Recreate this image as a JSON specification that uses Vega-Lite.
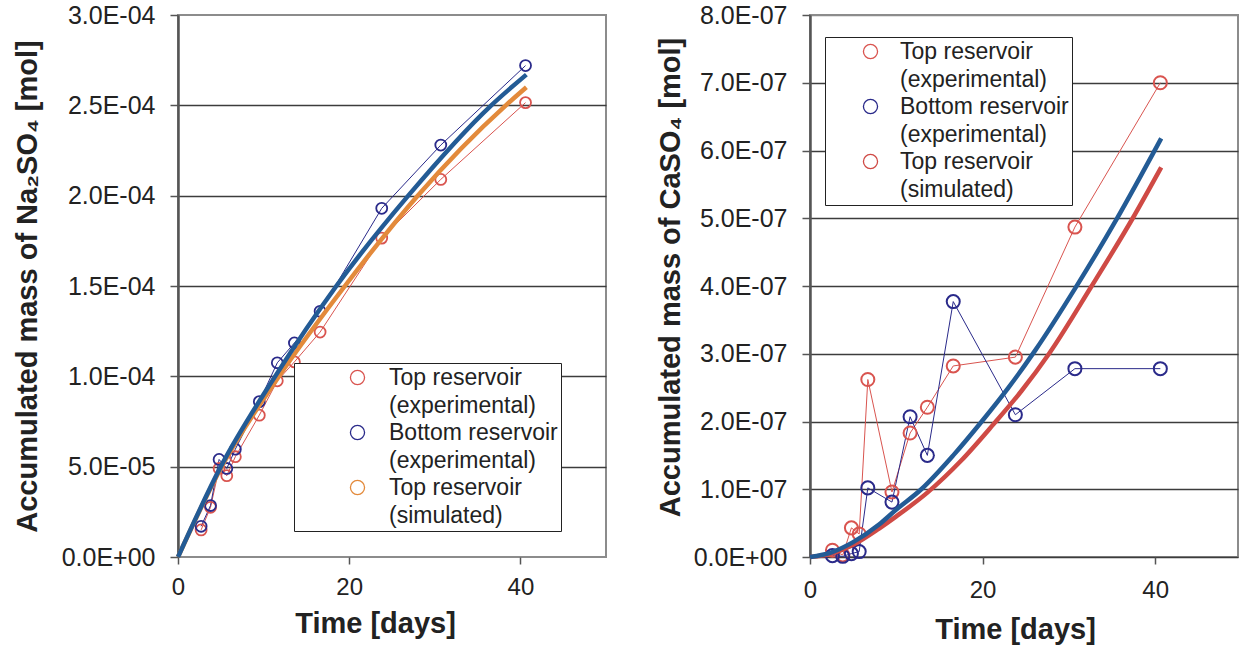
{
  "$schema": "https://vega.github.io/schema/vega-lite/v6.json",
  "background": "white",
  "padding": {"left": 12, "top": 2, "right": 0, "bottom": 0},
  "spacing": 47,
  "config": {
    "font": "Liberation Sans",
    "view": {"stroke": "#8c8c8c", "strokeWidth": 2},
    "axis": {"labelFont": "Liberation Sans", "titleFont": "Liberation Sans", "labelColor": "#222", "titleColor": "#222", "labelFontSize": 25, "titleFontSize": 29, "titleFontWeight": "bold"},
    "legend": {"labelFont": "Liberation Sans"}
  },
  "resolve": {"scale": {"color": "independent", "x": "independent", "y": "independent"}, "legend": {"color": "independent"}},
  "datasets": {
    "na": [
      {"series": "Top reservoir (experimental)", "t": 2.7, "v": 1.5e-5},
      {"series": "Top reservoir (experimental)", "t": 3.8, "v": 2.75e-5},
      {"series": "Top reservoir (experimental)", "t": 4.8, "v": 4.9e-5},
      {"series": "Top reservoir (experimental)", "t": 5.7, "v": 4.5e-5},
      {"series": "Top reservoir (experimental)", "t": 6.7, "v": 5.55e-5},
      {"series": "Top reservoir (experimental)", "t": 9.5, "v": 7.85e-5},
      {"series": "Top reservoir (experimental)", "t": 11.6, "v": 9.75e-5},
      {"series": "Top reservoir (experimental)", "t": 13.6, "v": 1.08e-4},
      {"series": "Top reservoir (experimental)", "t": 16.6, "v": 1.245e-4},
      {"series": "Top reservoir (experimental)", "t": 23.8, "v": 1.765e-4},
      {"series": "Top reservoir (experimental)", "t": 30.7, "v": 2.09e-4},
      {"series": "Top reservoir (experimental)", "t": 40.6, "v": 2.515e-4},
      {"series": "Bottom reservoir (experimental)", "t": 2.7, "v": 1.7e-5},
      {"series": "Bottom reservoir (experimental)", "t": 3.8, "v": 2.85e-5},
      {"series": "Bottom reservoir (experimental)", "t": 4.8, "v": 5.4e-5},
      {"series": "Bottom reservoir (experimental)", "t": 5.7, "v": 4.9e-5},
      {"series": "Bottom reservoir (experimental)", "t": 6.7, "v": 5.97e-5},
      {"series": "Bottom reservoir (experimental)", "t": 9.5, "v": 8.6e-5},
      {"series": "Bottom reservoir (experimental)", "t": 11.6, "v": 1.075e-4},
      {"series": "Bottom reservoir (experimental)", "t": 13.6, "v": 1.185e-4},
      {"series": "Bottom reservoir (experimental)", "t": 16.6, "v": 1.36e-4},
      {"series": "Bottom reservoir (experimental)", "t": 23.8, "v": 1.93e-4},
      {"series": "Bottom reservoir (experimental)", "t": 30.7, "v": 2.28e-4},
      {"series": "Bottom reservoir (experimental)", "t": 40.6, "v": 2.72e-4},
      {"series": "Top reservoir (simulated)", "t": 0, "v": 0},
      {"series": "Top reservoir (simulated)", "t": 5.1, "v": 5e-5},
      {"series": "Top reservoir (simulated)", "t": 11.8, "v": 1e-4},
      {"series": "Top reservoir (simulated)", "t": 19.5, "v": 1.5e-4},
      {"series": "Top reservoir (simulated)", "t": 28.0, "v": 2e-4},
      {"series": "Top reservoir (simulated)", "t": 38.3, "v": 2.5e-4},
      {"series": "Top reservoir (simulated)", "t": 40.7, "v": 2.6e-4},
      {"series": "Bottom reservoir (simulated)", "t": 0, "v": 0},
      {"series": "Bottom reservoir (simulated)", "t": 5.0, "v": 5e-5},
      {"series": "Bottom reservoir (simulated)", "t": 11.35, "v": 1e-4},
      {"series": "Bottom reservoir (simulated)", "t": 18.5, "v": 1.5e-4},
      {"series": "Bottom reservoir (simulated)", "t": 26.9, "v": 2e-4},
      {"series": "Bottom reservoir (simulated)", "t": 36.6, "v": 2.5e-4},
      {"series": "Bottom reservoir (simulated)", "t": 40.7, "v": 2.67e-4}
    ],
    "ca": [
      {"series": "Top reservoir (experimental)", "t": 2.6, "v": 1.0e-8},
      {"series": "Top reservoir (experimental)", "t": 3.8, "v": 0.3e-8},
      {"series": "Top reservoir (experimental)", "t": 4.8, "v": 4.3e-8},
      {"series": "Top reservoir (experimental)", "t": 5.7, "v": 3.4e-8},
      {"series": "Top reservoir (experimental)", "t": 6.7, "v": 2.62e-7},
      {"series": "Top reservoir (experimental)", "t": 9.5, "v": 9.6e-8},
      {"series": "Top reservoir (experimental)", "t": 11.6, "v": 1.83e-7},
      {"series": "Top reservoir (experimental)", "t": 13.6, "v": 2.21e-7},
      {"series": "Top reservoir (experimental)", "t": 16.6, "v": 2.82e-7},
      {"series": "Top reservoir (experimental)", "t": 23.8, "v": 2.95e-7},
      {"series": "Top reservoir (experimental)", "t": 30.7, "v": 4.87e-7},
      {"series": "Top reservoir (experimental)", "t": 40.6, "v": 7.0e-7},
      {"series": "Bottom reservoir (experimental)", "t": 2.6, "v": 0.2e-8},
      {"series": "Bottom reservoir (experimental)", "t": 3.8, "v": 0.1e-8},
      {"series": "Bottom reservoir (experimental)", "t": 4.8, "v": 0.5e-8},
      {"series": "Bottom reservoir (experimental)", "t": 5.7, "v": 0.8e-8},
      {"series": "Bottom reservoir (experimental)", "t": 6.7, "v": 1.02e-7},
      {"series": "Bottom reservoir (experimental)", "t": 9.5, "v": 8.1e-8},
      {"series": "Bottom reservoir (experimental)", "t": 11.6, "v": 2.07e-7},
      {"series": "Bottom reservoir (experimental)", "t": 13.6, "v": 1.5e-7},
      {"series": "Bottom reservoir (experimental)", "t": 16.6, "v": 3.77e-7},
      {"series": "Bottom reservoir (experimental)", "t": 23.8, "v": 2.1e-7},
      {"series": "Bottom reservoir (experimental)", "t": 30.7, "v": 2.78e-7},
      {"series": "Bottom reservoir (experimental)", "t": 40.6, "v": 2.78e-7},
      {"series": "Top reservoir (simulated)", "t": 0, "v": 0},
      {"series": "Top reservoir (simulated)", "t": 2.5, "v": 5e-9},
      {"series": "Top reservoir (simulated)", "t": 5, "v": 1.8e-8},
      {"series": "Top reservoir (simulated)", "t": 8, "v": 4.2e-8},
      {"series": "Top reservoir (simulated)", "t": 10, "v": 6.0e-8},
      {"series": "Top reservoir (simulated)", "t": 13.6, "v": 9.5e-8},
      {"series": "Top reservoir (simulated)", "t": 17.5, "v": 1.42e-7},
      {"series": "Top reservoir (simulated)", "t": 21.2, "v": 1.95e-7},
      {"series": "Top reservoir (simulated)", "t": 24.5, "v": 2.45e-7},
      {"series": "Top reservoir (simulated)", "t": 27.7, "v": 3e-7},
      {"series": "Top reservoir (simulated)", "t": 32.5, "v": 3.97e-7},
      {"series": "Top reservoir (simulated)", "t": 37.4, "v": 5e-7},
      {"series": "Top reservoir (simulated)", "t": 40.7, "v": 5.75e-7},
      {"series": "Bottom reservoir (simulated)", "t": 0, "v": 0},
      {"series": "Bottom reservoir (simulated)", "t": 2.5, "v": 7e-9},
      {"series": "Bottom reservoir (simulated)", "t": 5, "v": 2.2e-8},
      {"series": "Bottom reservoir (simulated)", "t": 8, "v": 4.8e-8},
      {"series": "Bottom reservoir (simulated)", "t": 10, "v": 7e-8},
      {"series": "Bottom reservoir (simulated)", "t": 12.9, "v": 1e-7},
      {"series": "Bottom reservoir (simulated)", "t": 16.6, "v": 1.5e-7},
      {"series": "Bottom reservoir (simulated)", "t": 19.9, "v": 2e-7},
      {"series": "Bottom reservoir (simulated)", "t": 23, "v": 2.5e-7},
      {"series": "Bottom reservoir (simulated)", "t": 26.1, "v": 3.05e-7},
      {"series": "Bottom reservoir (simulated)", "t": 30.8, "v": 3.98e-7},
      {"series": "Bottom reservoir (simulated)", "t": 35.5, "v": 4.98e-7},
      {"series": "Bottom reservoir (simulated)", "t": 40.7, "v": 6.18e-7}
    ]
  },
  "hconcat": [
    {
      "width": 428,
      "height": 542,
      "data": {"name": "na"},
      "encoding": {
        "x": {"field": "t", "type": "quantitative", "scale": {"domain": [0, 50], "nice": false},
          "axis": {"values": [0, 20, 40], "labelFontSize": 24, "title": "Time [days]", "titleX": 197, "titleY": 75, "titleBaseline": "alphabetic", "titleAlign": "center", "domain": false, "grid": false, "tickColor": "#555", "tickSize": 7, "tickWidth": 1.5, "labelPadding": 11, "labelFlush": false}},
        "y": {"field": "v", "type": "quantitative", "scale": {"domain": [0, 0.0003], "nice": false},
          "axis": {"values": [0, 0.00005, 0.0001, 0.00015, 0.0002, 0.00025, 0.0003],
            "labelExpr": "replace(replace(upper(format(datum.value,'.1e')),'E-','E-0'),'E+','E+0')",
            "title": "Accumulated mass of Na₂SO₄ [mol]", "titleFontSize": 29, "titleX": -151, "titleY": 271, "titleBaseline": "middle", "titleAlign": "center", "titleAngle": -90,
            "grid": true, "gridColor": "#3c3c3c", "gridWidth": 1.3,
            "gridOpacity": {"condition": {"test": "datum.value <= 0 || datum.value >= 0.000299", "value": 0}, "value": 1},
            "domainColor": "#555", "domainWidth": 2.5, "tickColor": "#555", "tickSize": 8, "tickWidth": 1.5, "labelPadding": 15}}
      },
      "layer": [
        {
          "transform": [{"filter": "indexof(datum.series, 'experimental') >= 0"}],
          "mark": {"type": "line", "strokeWidth": 1},
          "encoding": {"color": {"field": "series", "type": "nominal",
            "scale": {"domain": ["Top reservoir (experimental)", "Bottom reservoir (experimental)", "Top reservoir (simulated)"], "range": ["#d9544f", "#2a2a8a", "#e38a3b"]},
            "legend": {"orient": "none", "legendX": 116, "legendY": 348, "title": null, "strokeColor": "#222", "fillColor": "white", "padding": 3,
              "labelFontSize": 23, "labelColor": "#222", "labelLimit": 400, "symbolSize": 200, "symbolStrokeWidth": 1.3, "symbolOffset": 49, "labelOffset": 20, "rowPadding": 3,
              "labelExpr": "[slice(datum.label, 0, indexof(datum.label, ' (')) + '\u00a0\u00a0\u00a0\u00a0\u00a0\u00a0', slice(datum.label, indexof(datum.label, ' (') + 1)]",
              "encode": {"labels": {"update": {"dy": {"value": 0}, "lineHeight": {"value": 28}}}}}}}
        },
        {
          "transform": [{"filter": "indexof(datum.series, 'experimental') >= 0"}],
          "mark": {"type": "point", "filled": false, "size": 120, "strokeWidth": 1.8, "opacity": 1},
          "encoding": {"color": {"field": "series", "type": "nominal",
            "scale": {"domain": ["Top reservoir (experimental)", "Bottom reservoir (experimental)", "Top reservoir (simulated)"], "range": ["#d9544f", "#2a2a8a", "#e38a3b"]}}}
        },
        {
          "transform": [{"filter": "datum.series === 'Top reservoir (simulated)'"}],
          "mark": {"type": "line", "strokeWidth": 4.5, "interpolate": "monotone"},
          "encoding": {"color": {"field": "series", "type": "nominal",
            "scale": {"domain": ["Top reservoir (experimental)", "Bottom reservoir (experimental)", "Top reservoir (simulated)"], "range": ["#d9544f", "#2a2a8a", "#e38a3b"]}}}
        },
        {
          "transform": [{"filter": "datum.series === 'Bottom reservoir (simulated)'"}],
          "mark": {"type": "line", "strokeWidth": 4.5, "interpolate": "monotone", "color": "#235b95"},
          "encoding": {}
        }
      ]
    },
    {
      "width": 428,
      "height": 542,
      "data": {"name": "ca"},
      "encoding": {
        "x": {"field": "t", "type": "quantitative", "scale": {"domain": [0, 49.6], "nice": false},
          "axis": {"values": [0, 20, 40], "labelFontSize": 24, "title": "Time [days]", "titleX": 205, "titleY": 81, "titleBaseline": "alphabetic", "titleAlign": "center", "domain": false, "grid": false, "tickColor": "#555", "tickSize": 7, "tickWidth": 1.5, "labelPadding": 14, "labelFlush": false}},
        "y": {"field": "v", "type": "quantitative", "scale": {"domain": [0, 8e-7], "nice": false},
          "axis": {"values": [0, 1e-7, 2e-7, 3e-7, 4e-7, 5e-7, 6e-7, 7e-7, 8e-7],
            "labelExpr": "replace(replace(upper(format(datum.value,'.1e')),'E-','E-0'),'E+','E+0')",
            "title": "Accumulated mass of CaSO₄ [mol]", "titleFontSize": 29, "titleX": -140, "titleY": 262, "titleBaseline": "middle", "titleAlign": "center", "titleAngle": -90,
            "grid": true,
            "gridColor": {"condition": {"test": "datum.value >= 7.99e-7", "value": "#8c8c8c"}, "value": "#3c3c3c"},
            "gridWidth": 1.3,
            "domainColor": "#555", "domainWidth": 2.5, "tickColor": "#555", "tickSize": 8, "tickWidth": 1.5, "labelPadding": 15}}
      },
      "layer": [
        {
          "transform": [{"filter": "indexof(datum.series, 'experimental') >= 0"}],
          "mark": {"type": "line", "strokeWidth": 1},
          "encoding": {"color": {"field": "series", "type": "nominal",
            "scale": {"domain": ["Top reservoir (experimental)", "Bottom reservoir (experimental)", "Top reservoir (simulated)"], "range": ["#d9544f", "#2a2a8a", "#cf4a45"]},
            "legend": {"orient": "none", "legendX": 15, "legendY": 22, "title": null, "strokeColor": "#222", "fillColor": "white", "padding": 3,
              "labelFontSize": 23, "labelColor": "#222", "labelLimit": 400, "symbolSize": 200, "symbolStrokeWidth": 1.3, "symbolOffset": 31, "labelOffset": 18, "rowPadding": 3,
              "labelExpr": "[slice(datum.label, 0, indexof(datum.label, ' (')) + '\u00a0\u00a0\u00a0', slice(datum.label, indexof(datum.label, ' (') + 1)]",
              "encode": {"labels": {"update": {"dy": {"value": 0}, "lineHeight": {"value": 28}}}}}}}
        },
        {
          "transform": [{"filter": "indexof(datum.series, 'experimental') >= 0"}],
          "mark": {"type": "point", "filled": false, "size": 170, "strokeWidth": 2, "opacity": 1},
          "encoding": {"color": {"field": "series", "type": "nominal",
            "scale": {"domain": ["Top reservoir (experimental)", "Bottom reservoir (experimental)", "Top reservoir (simulated)"], "range": ["#d9544f", "#2a2a8a", "#cf4a45"]}}}
        },
        {
          "transform": [{"filter": "datum.series === 'Top reservoir (simulated)'"}],
          "mark": {"type": "line", "strokeWidth": 4.5, "interpolate": "monotone"},
          "encoding": {"color": {"field": "series", "type": "nominal",
            "scale": {"domain": ["Top reservoir (experimental)", "Bottom reservoir (experimental)", "Top reservoir (simulated)"], "range": ["#d9544f", "#2a2a8a", "#cf4a45"]}}}
        },
        {
          "transform": [{"filter": "datum.series === 'Bottom reservoir (simulated)'"}],
          "mark": {"type": "line", "strokeWidth": 4.5, "interpolate": "monotone", "color": "#235b95"},
          "encoding": {}
        }
      ]
    }
  ]
}
